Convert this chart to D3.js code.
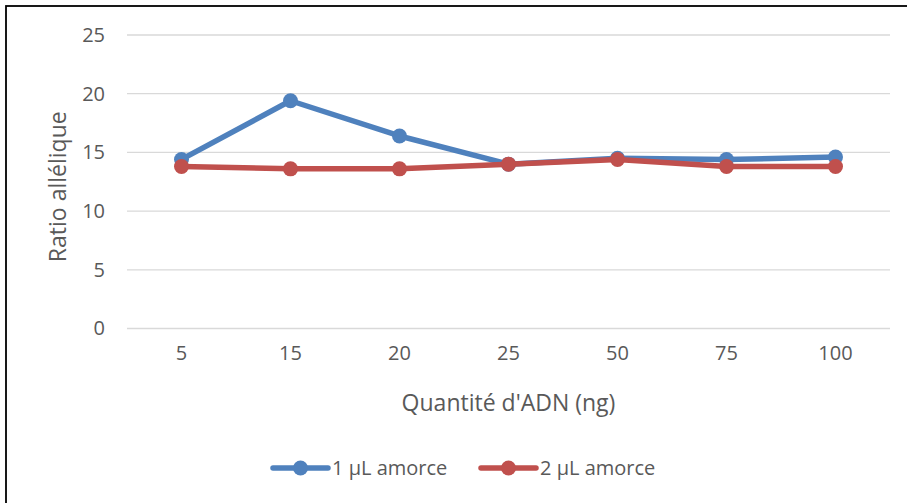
<!DOCTYPE html>
<html><head><meta charset="utf-8">
<script src="https://cdn.jsdelivr.net/npm/d3@7/dist/d3.min.js"></script>
<style>body{margin:0;background:#fff;} svg{display:block;font-family:"Open Sans",sans-serif;}</style>
</head><body>
<svg id="c" width="907" height="503"></svg>
<script>
const categories = ["5","15","20","25","50","75","100"];
const series1Name = "1 µL amorce";
const series1 = [14.4, 19.4, 16.4, 14.0, 14.5, 14.4, 14.6];
const series2Name = "2 µL amorce";
const series2 = [13.8, 13.6, 13.6, 14.0, 14.4, 13.8, 13.8];
const yTicks = [0, 5, 10, 15, 20, 25];
const xTitle = "Quantité d'ADN (ng)";
const yTitle = "Ratio allélique";

const svg = d3.select("#c");
const W = 907, H = 503;
const m = {left:127, right:890, top:35, bottom:328.5};
const textCol = "#595959";
const FF = "'Open Sans',sans-serif";

// frame
svg.append("rect").attr("x",6).attr("y",6).attr("width",W+10).attr("height",H+10)
  .attr("fill","none").attr("stroke","#000").attr("stroke-width",1.8);

const x = d3.scaleBand().domain(categories).range([m.left, m.right]);
const y = d3.scaleLinear().domain([0,25]).range([m.bottom, m.top]);

// gridlines
svg.append("g").selectAll("line").data(yTicks).join("line")
  .attr("x1",m.left).attr("x2",m.right)
  .attr("y1",d=>y(d)).attr("y2",d=>y(d))
  .attr("stroke","#d9d9d9").attr("stroke-width",1.3);

// y axis labels
const yAxis = d3.axisLeft(y).tickValues(yTicks).tickSize(0).tickPadding(0);
const gy = svg.append("g").attr("transform",`translate(${m.left-22},0)`).call(yAxis);
gy.select(".domain").remove();
gy.selectAll("text").attr("fill",textCol).style("font-size","20px").style("font-family",FF);

// x axis labels
const xAxis = d3.axisBottom(x).tickSize(0).tickPadding(0);
const gx = svg.append("g").attr("transform",`translate(0,${m.bottom+17})`).call(xAxis);
gx.select(".domain").remove();
gx.selectAll("text").attr("fill",textCol).style("font-size","20px").style("font-family",FF);

// titles
svg.append("text").attr("x",(m.left+m.right)/2).attr("y",411).attr("text-anchor","middle")
  .attr("fill",textCol).style("font-size","23px").text(xTitle);
svg.append("text").attr("transform",`translate(66,${(m.top+m.bottom)/2+5}) rotate(-90)`)
  .attr("text-anchor","middle").attr("fill",textCol).style("font-size","23px").text(yTitle);

const cx = d => x(d) + x.bandwidth()/2;
const line = d3.line().x((d,i)=>cx(categories[i])).y(d=>y(d));

const S = [
  {name:series1Name, vals:series1, color:"#4f81bd"},
  {name:series2Name, vals:series2, color:"#c0504d"}
];
S.forEach(s=>{
  svg.append("path").datum(s.vals).attr("d",line).attr("fill","none")
    .attr("stroke",s.color).attr("stroke-width",5.5).attr("stroke-linejoin","round").attr("stroke-linecap","round");
  svg.append("g").selectAll("circle").data(s.vals).join("circle")
    .attr("cx",(d,i)=>cx(categories[i])).attr("cy",d=>y(d)).attr("r",7.5).attr("fill",s.color);
});

// legend
const legX = [273, 481];
S.forEach((s,i)=>{
  const g = svg.append("g").attr("transform",`translate(${legX[i]},468)`);
  g.append("line").attr("x1",0).attr("x2",55).attr("stroke",s.color).attr("stroke-width",5.5).attr("stroke-linecap","round");
  g.append("circle").attr("cx",27.5).attr("r",7.5).attr("fill",s.color);
  g.append("text").attr("x",59).attr("dy","0.35em").attr("fill",textCol).style("font-size","20px").text(s.name);
});
</script>
</body></html>
